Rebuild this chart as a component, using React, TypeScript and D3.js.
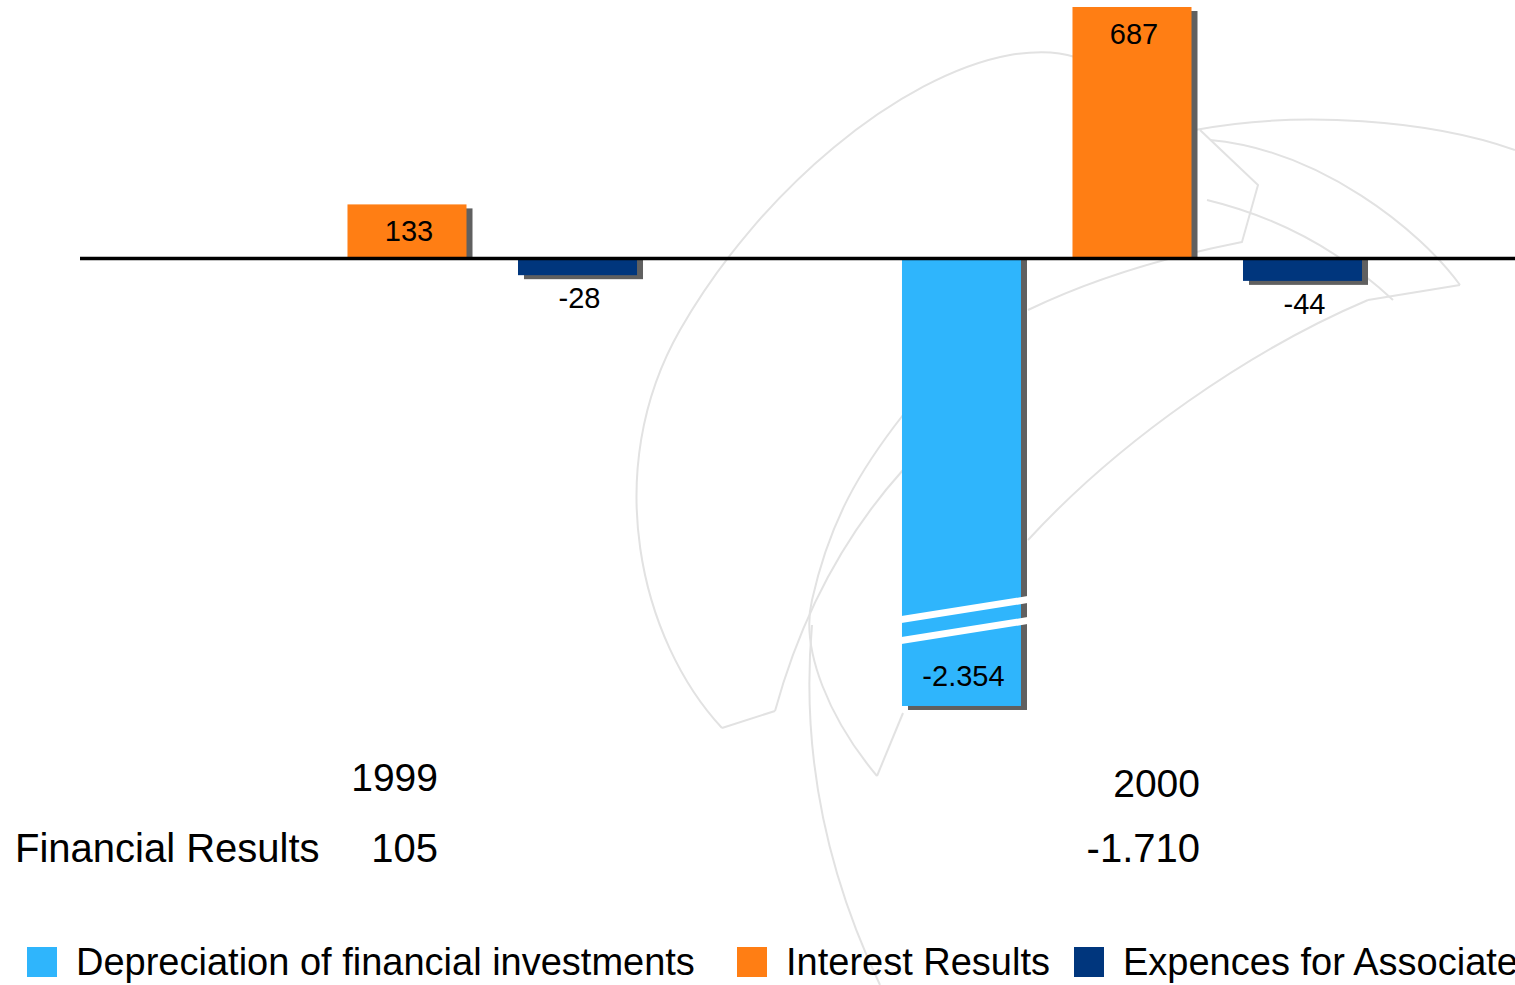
import React from "react";
import * as d3 from "d3";

const years = ["1999", "2000"];
const seriesNames = [
  "Depreciation of financial investments",
  "Interest Results",
  "Expences for Associates",
];
const seriesColors = ["#2FB5FC", "#FF7E14", "#00367D"];
const depreciation = [0, -2354];
const interestResults = [133, 687];
const associates = [-28, -44];
const financialResults = [105, -1710];
const rowLabel = "Financial Results";
const visibleMin = -1237; // axis break: values below are drawn broken

const W = 1515;
const H = 985;
const FONT = "'Liberation Sans', Arial, sans-serif";

const locale = d3.formatLocale({
  decimal: ",",
  thousands: ".",
  grouping: [3],
  currency: ["", ""],
  minus: "-",
});
const fmt = locale.format(",d");

const watermark = [
  "M722,728 C640,640 600,470 680,330 C760,190 900,75 1010,55 C1040,50 1060,52 1075,57",
  "M722,728 L775,711",
  "M775,711 C800,620 840,540 903,470",
  "M877,776 L903,713",
  "M877,776 C830,720 800,650 812,600 C830,520 860,470 903,415",
  "M812,625 C800,760 830,880 880,985",
  "M1195,130 C1300,110 1430,120 1515,150",
  "M1210,140 C1320,150 1420,230 1460,285",
  "M1460,285 L1368,300",
  "M1368,300 C1250,350 1120,440 1028,540",
  "M1200,130 L1258,185 L1242,242 C1150,260 1080,285 1028,310",
  "M1207,200 C1290,220 1350,260 1393,300",
];

export default function App() {
  const baseline = 258.5;
  const pad = 6.7;
  const y = d3.scaleLinear().domain([0, 687]).range([baseline, 13.7]);
  const x0 = d3.scaleBand<string>().domain(years).range([80, 1530]);
  const x1 = d3
    .scaleBand<string>()
    .domain(seriesNames)
    .range([0, x0.bandwidth()])
    .paddingInner(0.302)
    .paddingOuter(0.777)
    .align(0.366);

  const seriesValues = [depreciation, interestResults, associates];
  const bars: any[] = [];
  years.forEach((yr, i) => {
    seriesNames.forEach((s, j) => {
      const v = seriesValues[j][i];
      if (v === 0) return;
      const clamped = v < visibleMin;
      const vv = Math.max(v, visibleMin);
      const end = vv > 0 ? y(vv) - pad : y(vv) + pad;
      const xl = (x0(yr) as number) + (x1(s) as number);
      bars.push({ yr, s, v, j, clamped, xl, w: x1.bandwidth(), top: Math.min(end, baseline), bottom: Math.max(end, baseline) });
    });
  });

  const legendX = [27, 737, 1074];

  return (
    <svg width={W} height={H} style={{ position: "absolute", left: 0, top: 0, background: "#fff" }}>
      <g fill="none" stroke="#e2e2e2" strokeWidth={2}>
        {watermark.map((d, i) => (
          <path key={i} d={d} />
        ))}
      </g>
      {bars.map((b, i) => {
        const sx = 6, sy = 4;
        const shadow =
          b.v > 0
            ? { x: b.xl + sx, y: b.top + sy, w: b.w, h: b.bottom - b.top - sy }
            : { x: b.xl + sx, y: b.top, w: b.w, h: b.bottom - b.top + sy };
        return (
          <g key={i}>
            <rect x={shadow.x} y={shadow.y} width={shadow.w} height={shadow.h} fill="#606060" />
            <rect x={b.xl} y={b.top} width={b.w} height={b.bottom - b.top} fill={seriesColors[b.j]} />
          </g>
        );
      })}
      {bars
        .filter((b) => b.clamped)
        .map((b, i) => {
          const x1p = b.xl - 32;
          const x2p = b.xl + b.w + 8;
          const slope = -20 / 126;
          const yAt = (xx: number, off: number) => b.bottom - 90 + off + (xx - b.xl) * slope;
          return (
            <g key={"br" + i} fill="#fff">
              {[0, 21].map((off) => (
                <polygon
                  key={off}
                  points={`${x1p},${yAt(x1p, off)} ${x2p},${yAt(x2p, off)} ${x2p},${yAt(x2p, off) + 7} ${x1p},${yAt(x1p, off) + 7}`}
                />
              ))}
            </g>
          );
        })}
      <line x1={80} x2={W} y1={baseline} y2={baseline} stroke="#000" strokeWidth={3.5} />
      <g fontFamily={FONT} fontSize={29} fill="#000" textAnchor="middle">
        {bars.map((b, i) => {
          let cy;
          if (b.v > 0) cy = b.top + 27;
          else if (b.clamped) cy = b.bottom - 30;
          else cy = b.bottom + 23;
          return (
            <text key={i} x={b.xl + b.w / 2 + 2} y={cy + 10}>
              {fmt(b.v)}
            </text>
          );
        })}
      </g>
      <g fontFamily={FONT} fontSize={39} fill="#000">
        {years.map((yr, i) => (
          <text key={yr} x={i === 0 ? 438 : 1200} y={i === 0 ? 791 : 797} textAnchor="end">
            {yr}
          </text>
        ))}
        <text x={15} y={862} fontSize={40}>{rowLabel}</text>
        {financialResults.map((v, i) => (
          <text key={i} x={i === 0 ? 438 : 1200} y={862} textAnchor="end" fontSize={40}>
            {fmt(v)}
          </text>
        ))}
      </g>
      <g fontFamily={FONT} fontSize={38} fill="#000">
        {seriesNames.map((s, i) => (
          <g key={s}>
            <rect x={legendX[i]} y={947} width={30} height={30} fill={seriesColors[i]} />
            <text x={legendX[i] + 49} y={975}>{s}</text>
          </g>
        ))}
      </g>
    </svg>
  );
}
